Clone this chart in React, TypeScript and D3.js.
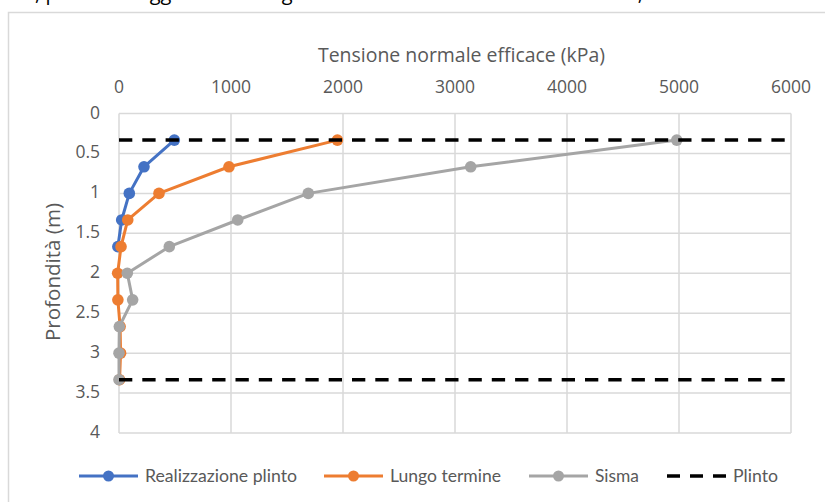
import React from "react";
import * as d3 from "d3";

const depths = [0.333, 0.667, 1.0, 1.333, 1.667, 2.0, 2.333, 2.667, 3.0, 3.333];
const realizzazione = [494, 223, 92, 24, -10];
const lungoTermine = [1950, 982, 357, 78, 18, -12, -10, 10, 14, 5];
const sisma = [4980, 3140, 1690, 1060, 449, 74, 122, 3, 0, 0];
const plintoDepths = [0.333, 3.333];
const plintoRange = [0, 6000];
const xTicks = [0, 1000, 2000, 3000, 4000, 5000, 6000];
const yTicks = [0, 0.5, 1, 1.5, 2, 2.5, 3, 3.5, 4];

const seriesNames = ["Realizzazione plinto", "Lungo termine", "Sisma", "Plinto"];
const seriesColors = ["#4472C4", "#ED7D31", "#A5A5A5", "#000000"];

const W = 825;
const H = 502;
const plot = { left: 119, right: 791, top: 113.5, bottom: 433 };

export default function App() {
  const x = d3.scaleLinear().domain([0, 6000]).range([plot.left, plot.right]);
  const y = d3.scaleLinear().domain([0, 4]).range([plot.top, plot.bottom]);
  const line = d3
    .line<[number, number]>()
    .x((d) => x(d[0]))
    .y((d) => y(d[1]));

  const series = [realizzazione, lungoTermine, sisma].map((vals) =>
    vals.map((v, i) => [v, depths[i]] as [number, number])
  );

  const axisFont = "'Open Sans', 'DejaVu Sans', sans-serif";
  const legendFont = "Lato, 'Open Sans', sans-serif";

  const legendItems = [
    { lineX: 79, textX: 145, textW: 152 },
    { lineX: 324, textX: 390, textW: 111 },
    { lineX: 529, textX: 595, textW: 44 },
    { lineX: 667, textX: 733, textW: 45 },
  ];
  const legendY = 476;

  return (
    <div style={{ position: "absolute", left: 0, top: 0 }}>
      <svg width={W} height={H} style={{ display: "block", background: "#fff" }}>
        {/* document text above the chart, cut off by the top edge as in the reference */}
        <g fontFamily={axisFont} fontSize={20} fill="#000">
          <text x={30} y={-0.5}>i, per</text>
          <text x={120} y={-0.5}>maggiori</text>
          <text x={233} y={-0.5}>dettagli</text>
          <text x={643} y={-0.5} textAnchor="end">si rimanda alla relazione tecnica,</text>
        </g>
        <rect x={8.5} y={12.5} width={840} height={500} fill="#fff" stroke="#d9d9d9" strokeWidth={1.5} />

        {/* gridlines */}
        <g stroke="#d9d9d9" strokeWidth={1.5}>
          {xTicks.map((t) => (
            <line key={"gx" + t} x1={x(t)} x2={x(t)} y1={plot.top} y2={plot.bottom} />
          ))}
          {yTicks.map((t) => (
            <line key={"gy" + t} x1={plot.left} x2={plot.right} y1={y(t)} y2={y(t)} />
          ))}
        </g>

        {/* x tick labels */}
        <g fontFamily={axisFont} fontSize={17.5} fill="#595959" textAnchor="middle">
          {xTicks.map((t) => (
            <text key={"xt" + t} x={x(t)} y={93}>
              {t}
            </text>
          ))}
        </g>
        {/* y tick labels */}
        <g fontFamily={axisFont} fontSize={17.5} fill="#595959" textAnchor="end">
          {yTicks.map((t) => (
            <text key={"yt" + t} x={100} y={y(t) + 5}>
              {String(t)}
            </text>
          ))}
        </g>

        {/* axis titles */}
        <text
          x={461.5}
          y={62}
          fontFamily={axisFont}
          fontSize={19.5}
          fill="#595959"
          textAnchor="middle"
          textLength={287}
          lengthAdjust="spacingAndGlyphs"
        >
          Tensione normale efficace (kPa)
        </text>
        <text
          transform={`translate(60, 272) rotate(-90)`}
          fontFamily={axisFont}
          fontSize={19.5}
          fill="#595959"
          textAnchor="middle"
          textLength={138}
          lengthAdjust="spacingAndGlyphs"
        >
          Profondità (m)
        </text>

        {/* series */}
        {series.map((pts, si) => (
          <g key={"s" + si}>
            <path d={line(pts) || ""} fill="none" stroke={seriesColors[si]} strokeWidth={3} strokeLinejoin="round" />
            {pts.map((p, i) => (
              <circle key={i} cx={x(p[0])} cy={y(p[1])} r={5.8} fill={seriesColors[si]} />
            ))}
          </g>
        ))}

        {/* plinto dashed lines */}
        {plintoDepths.map((dp) => (
          <path
            key={"pl" + dp}
            d={line([[plintoRange[0], dp], [plintoRange[1], dp]]) || ""}
            fill="none"
            stroke="#000"
            strokeWidth={3.5}
            strokeDasharray="13.3 10"
          />
        ))}

        {/* legend */}
        <g>
          {legendItems.map((it, i) => (
            <g key={"lg" + i}>
              {i < 3 ? (
                <>
                  <line x1={it.lineX} x2={it.lineX + 59} y1={legendY} y2={legendY} stroke={seriesColors[i]} strokeWidth={3} />
                  <circle cx={it.lineX + 29.5} cy={legendY} r={5.5} fill={seriesColors[i]} />
                </>
              ) : (
                <line
                  x1={it.lineX}
                  x2={it.lineX + 59}
                  y1={legendY}
                  y2={legendY}
                  stroke="#000"
                  strokeWidth={3.5}
                  strokeDasharray="13 10"
                />
              )}
              <text
                x={it.textX}
                y={legendY + 6}
                fontFamily={legendFont}
                fontSize={17}
                fill="#595959"
                textLength={it.textW}
                lengthAdjust="spacingAndGlyphs"
              >
                {seriesNames[i]}
              </text>
            </g>
          ))}
        </g>
      </svg>
    </div>
  );
}
